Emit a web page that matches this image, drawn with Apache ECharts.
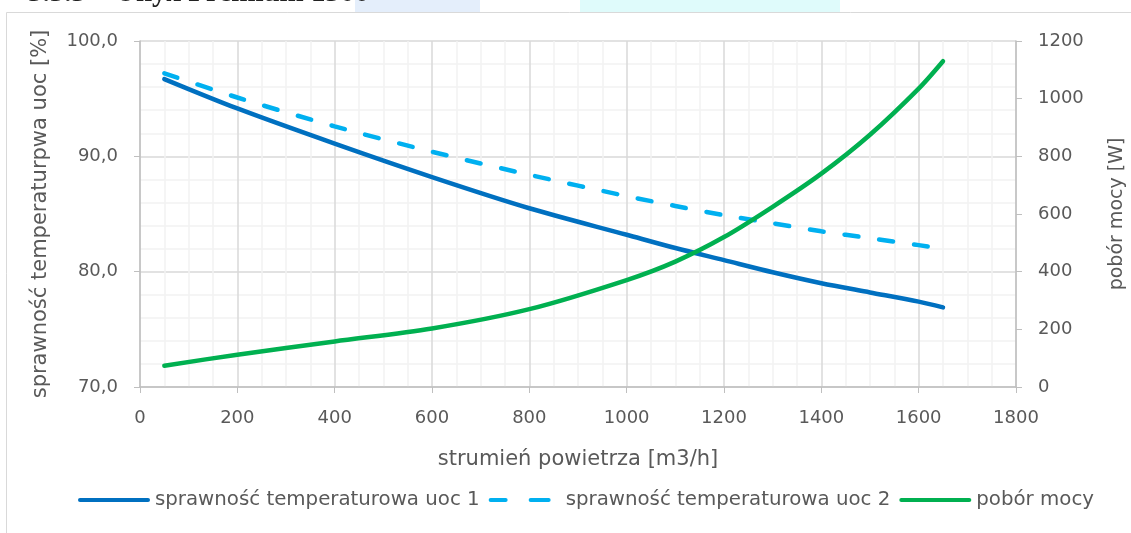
<!DOCTYPE html>
<html>
<head>
<meta charset="utf-8">
<script src="https://cdn.jsdelivr.net/npm/echarts@6/dist/echarts.min.js"></script>
<style>
html,body{margin:0;padding:0;background:#fff;overflow:hidden;}
#chart{width:1131px;height:533px;}
</style>
</head>
<body>
<div id="chart"></div>
<script>
// ---- data ----
var xValues = [50, 200, 400, 600, 800, 1000, 1100, 1200, 1300, 1400, 1500, 1600, 1650];
var effUoc1 = [96.7, 94.15, 91.1, 88.2, 85.5, 83.2, 82.05, 81.0, 79.95, 79.0, 78.2, 77.4, 76.9];
var effUoc2 = [97.2, 95.1, 92.6, 90.4, 88.4, 86.55, 85.7, 84.9, 84.2, 83.5, 82.9, 82.3, 82.0];
var powerW  = [74, 112, 158, 203, 270, 371, 435, 520, 625, 740, 875, 1035, 1130];
var seriesNames = ['sprawność temperaturowa uoc 1', 'sprawność temperaturowa uoc 2', 'pobór mocy'];
var xAxisName = 'strumień powietrza [m3/h]';
var yLeftName = 'sprawność temperaturpwa uoc [%]';
var yRightName = 'pobór mocy [W]';
var headerText = '3.3.3    Unyx Premium 1300';

function pairs(xs, ys){ return xs.map(function(x,i){ return [x, ys[i]]; }); }

var FONT = 'DejaVu Sans';
var TXT = '#595959';
var solidIcon = 'path://M2,0 H70 A2,2 0 0 1 70,4 H2 A2,2 0 0 1 2,0 Z';
var dashIcon = 'path://M2,0 H17 A2,2 0 0 1 17,4 H2 A2,2 0 0 1 2,0 Z M42,0 H60 A2,2 0 0 1 60,4 H42 A2,2 0 0 1 42,0 Z M72,2 L72,2 Z';
var chart = echarts.init(document.getElementById('chart'));
chart.setOption({
  animation: false,
  backgroundColor: '#fff',
  graphic: [
    { type:'rect', z:-10, shape:{x:355,y:0,width:125,height:12}, style:{fill:'#e4eefb'} },
    { type:'rect', z:-10, shape:{x:580,y:0,width:260,height:12}, style:{fill:'#dffbfb'} },
    { type:'text', z:-5, left:28, top:-21, style:{text:headerText, font:'bold 29px "Liberation Serif"', fill:'#222'} },
    { type:'rect', z:-1, shape:{x:6.5,y:12.5,width:1200,height:600}, style:{fill:'#fff', stroke:'#D9D9D9', lineWidth:1} }
  ],
  grid: { left:140, top:41, width:876, height:346, containLabel:false, outerBoundsMode:'none' },
  legend: {
    bottom: 18, left: 73,
    itemWidth: 72, itemHeight: 4, itemGap: 9,
    textStyle: { fontFamily: FONT, fontSize: 19.8, color: TXT },
    data: [
      { name: seriesNames[0], icon: solidIcon },
      { name: seriesNames[1], icon: dashIcon },
      { name: seriesNames[2], icon: solidIcon }
    ]
  },
  xAxis: {
    type:'value', min:0, max:1800, interval:200,
    name: xAxisName, nameLocation:'middle', nameGap:62,
    nameTextStyle:{ fontFamily:FONT, fontSize:21, color:TXT },
    axisLine:{ show:true, lineStyle:{ color:'#BFBFBF', width:1.5 } },
    axisTick:{ show:true, length:6, lineStyle:{ color:'#BFBFBF' } },
    axisLabel:{ fontFamily:FONT, fontSize:18, color:TXT, margin:22,
      formatter:function(v){ return String(v); } },
    splitLine:{ show:true, lineStyle:{ color:'#D9D9D9', width:1.5 } },
    minorTick:{ show:false, splitNumber:4 },
    minorSplitLine:{ show:true, lineStyle:{ color:'#F2F2F2', width:1.5 } }
  },
  yAxis: [
    {
      type:'value', min:70, max:100, interval:10, position:'left',
      name: yLeftName, nameLocation:'middle', nameGap:89,
      nameTextStyle:{ fontFamily:FONT, fontSize:21, color:TXT },
      axisLine:{ show:true, lineStyle:{ color:'#BFBFBF', width:1.5 } },
      axisTick:{ show:true, length:6, lineStyle:{ color:'#BFBFBF' } },
      axisLabel:{ fontFamily:FONT, fontSize:18, color:TXT, margin:22,
        formatter:function(v){ return v.toFixed(1).replace('.', ','); } },
      splitLine:{ show:true, lineStyle:{ color:'#D9D9D9', width:1.5 } },
      minorTick:{ show:false, splitNumber:5 },
      minorSplitLine:{ show:true, lineStyle:{ color:'#F2F2F2', width:1.5 } }
    },
    {
      type:'value', min:0, max:1200, interval:200, position:'right',
      name: yRightName, nameLocation:'middle', nameGap:92,
      nameTextStyle:{ fontFamily:FONT, fontSize:19, color:TXT },
      axisLine:{ show:true, lineStyle:{ color:'#BFBFBF', width:1.5 } },
      axisTick:{ show:true, length:6, lineStyle:{ color:'#BFBFBF' } },
      axisLabel:{ fontFamily:FONT, fontSize:18, color:TXT, margin:22,
        formatter:function(v){ return String(v); } },
      splitLine:{ show:false }
    }
  ],
  series: [
    { name:seriesNames[0], type:'line', yAxisIndex:0, data:pairs(xValues, effUoc1), smooth:0.3,
      showSymbol:false, symbol:'none', color:'#0070C0',
      lineStyle:{ color:'#0070C0', width:4.5, cap:'round' } },
    { name:seriesNames[1], type:'line', yAxisIndex:0, data:pairs(xValues, effUoc2), smooth:0.3,
      showSymbol:false, symbol:'none', color:'#00B0F0',
      lineStyle:{ color:'#00B0F0', width:4.5, type:[14,21], cap:'round' } },
    { name:seriesNames[2], type:'line', yAxisIndex:1, data:pairs(xValues, powerW), smooth:0.3,
      showSymbol:false, symbol:'none', color:'#00B050',
      lineStyle:{ color:'#00B050', width:4.5, cap:'round' } }
  ]
});
</script>
</body>
</html>
